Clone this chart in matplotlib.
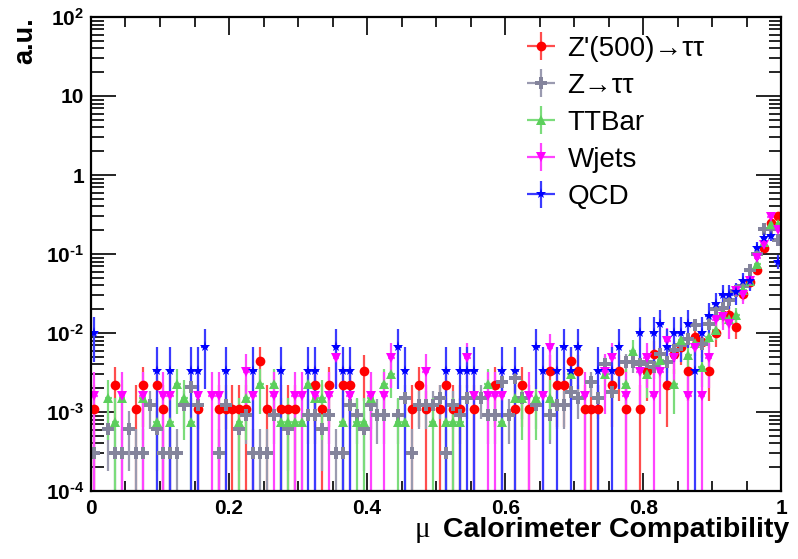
import numpy as np
import matplotlib
matplotlib.use("Agg")
import matplotlib.pyplot as plt
from matplotlib.ticker import FixedLocator, MultipleLocator, LogLocator, NullFormatter

plt.rcParams['font.family'] = ['Liberation Sans', 'DejaVu Sans']
plt.rcParams['mathtext.fontset'] = 'custom'
plt.rcParams['mathtext.rm'] = 'Liberation Sans:bold'
plt.rcParams['mathtext.bf'] = 'Liberation Sans:bold'
plt.rcParams['mathtext.it'] = 'Liberation Sans:bold'

# bin index (0..99, width 0.01) and normalised content per sample
zp_bins = [0, 3, 6, 7, 9, 10, 15, 18, 19, 20, 21, 22, 24, 25, 27, 28, 29, 32, 33, 34, 36, 37, 39,
           46, 47, 48, 50, 51, 52, 53, 55, 58, 61, 62, 63, 66, 67, 68, 69, 70, 71, 72, 73, 75, 76,
           77, 79, 80, 81, 83, 84, 85, 86, 87, 88, 89, 90, 91, 92, 93, 94, 95, 96, 97, 98, 99]
zp_vals = [1.1e-3, 2.2e-3, 1.1e-3, 2.2e-3, 2.2e-3, 1.1e-3, 1.1e-3, 1.1e-3, 1.1e-3, 1.1e-3, 1.1e-3,
           1.1e-3, 4.4e-3, 1.1e-3, 1.1e-3, 1.1e-3, 1.1e-3, 2.2e-3, 1.1e-3, 2.2e-3, 2.2e-3, 2.2e-3,
           3.3e-3, 1.1e-3, 2.2e-3, 1.1e-3, 1.1e-3, 2.2e-3, 1.1e-3, 1.1e-3, 1.1e-3, 2.2e-3, 1.1e-3,
           2.2e-3, 1.1e-3, 3.3e-3, 2.2e-3, 2.2e-3, 4.4e-3, 3.3e-3, 1.1e-3, 1.1e-3, 1.1e-3, 2.2e-3,
           3.3e-3, 1.1e-3, 1.1e-3, 3.3e-3, 5.5e-3, 2.2e-3, 5.5e-3, 6.6e-3, 3.3e-3, 8.8e-3, 7.7e-3,
           3.3e-3, 9.9e-3, 1.7e-2, 1.7e-2, 1.2e-2, 3.1e-2, 4.4e-2, 6.2e-2, 0.12, 0.25, 0.30]

ztt_bins = [0, 2, 3, 4, 5, 6, 7, 8, 9, 10, 11, 12, 13, 14, 15, 18, 19, 21, 22, 23, 24, 25, 26, 28,
            31, 32, 33, 34, 35, 36, 37, 38, 39, 40, 41, 42, 44, 45, 46, 47, 48, 49, 50, 51, 52, 53,
            54, 56, 57, 58, 59, 60, 61, 62, 64, 66, 67, 68, 69, 70, 72, 73, 74, 75, 77, 78, 79, 80,
            81, 82, 83, 84, 85, 86, 87, 88, 89, 90, 91, 92, 93, 94, 95, 96, 97, 98, 99]
ztt_vals = [3.05e-4, 6.1e-4, 3.05e-4, 3.05e-4, 6.1e-4, 3.05e-4, 3.05e-4, 1.22e-3, 6.1e-4, 3.05e-4,
            3.05e-4, 3.05e-4, 1.22e-3, 2.1e-3, 1.22e-3, 3.05e-4, 1.22e-3, 6.1e-4, 9.2e-4, 3.05e-4,
            3.05e-4, 3.05e-4, 9.2e-4, 6.1e-4, 9.2e-4, 9.2e-4, 6.1e-4, 9.2e-4, 3.05e-4, 3.05e-4,
            1.22e-3, 9.2e-4, 6.1e-4, 1.22e-3, 9.2e-4, 9.2e-4, 9.2e-4, 1.5e-3, 3.05e-4, 1.22e-3,
            1.22e-3, 1.22e-3, 1.5e-3, 3.05e-4, 1.22e-3, 9.2e-4, 1.5e-3, 1.5e-3, 9.2e-4, 9.2e-4,
            2.4e-3, 9.2e-4, 2.7e-3, 1.5e-3, 1.22e-3, 9.2e-4, 1.22e-3, 1.22e-3, 1.8e-3, 1.5e-3,
            2.4e-3, 1.5e-3, 4.0e-3, 1.8e-3, 4.3e-3, 4.3e-3, 4.0e-3, 4.3e-3, 3.7e-3, 5.5e-3, 4.3e-3,
            6.1e-3, 7.0e-3, 8.5e-3, 1.25e-2, 7.3e-3, 1.3e-2, 2.0e-2, 2.1e-2, 2.6e-2, 3.4e-2, 3.9e-2,
            6.2e-2, 0.10, 0.21, 0.21, 0.15]

tt_bins = [2, 3, 4, 7, 9, 11, 12, 13, 14, 21, 22, 24, 26, 27, 28, 29, 30, 31, 32, 33, 36, 38, 39,
           40, 42, 43, 44, 45, 49, 51, 52, 53, 57, 59, 61, 62, 64, 66, 69, 74, 77, 78, 80, 82, 84,
           85, 86, 87, 88, 89, 90, 91, 92, 93, 94, 95, 96, 97, 98, 99]
tt_vals = [1.5e-3, 7.5e-4, 1.5e-3, 1.5e-3, 7.5e-4, 7.5e-4, 2.25e-3, 1.5e-3, 7.5e-4, 7.5e-4, 1.5e-3,
           2.25e-3, 2.25e-3, 7.5e-4, 7.5e-4, 7.5e-4, 7.5e-4, 2.25e-3, 1.5e-3, 1.5e-3, 7.5e-4,
           7.5e-4, 7.5e-4, 1.5e-3, 2.25e-3, 3.0e-3, 7.5e-4, 7.5e-4, 7.5e-4, 7.5e-4, 7.5e-4, 7.5e-4,
           2.25e-3, 7.5e-4, 1.5e-3, 1.5e-3, 1.5e-3, 1.5e-3, 3.0e-3, 3.0e-3, 2.25e-3, 6.0e-3, 3.0e-3,
           4.5e-3, 2.25e-3, 8.2e-3, 5.2e-3, 7.5e-3, 3.75e-3, 9.0e-3, 1.1e-2, 1.7e-2, 1.5e-2, 1.7e-2,
           3.5e-2, 4.5e-2, 7.5e-2, 0.14, 0.24, 0.24]

wj_bins = [0, 4, 7, 10, 11, 15, 17, 18, 22, 23, 26, 29, 30, 32, 34, 35, 37, 40, 42, 43, 48, 54, 55,
           57, 58, 59, 63, 65, 66, 71, 74, 75, 77, 79, 80, 81, 82, 83, 84, 86, 87, 88, 89, 90, 91,
           92, 93, 94, 95, 96, 97, 98, 99]
wj_vals = [1.6e-3, 1.6e-3, 1.6e-3, 1.6e-3, 1.6e-3, 1.6e-3, 1.6e-3, 1.6e-3, 3.2e-3, 1.6e-3, 1.6e-3,
           1.6e-3, 1.6e-3, 1.6e-3, 1.6e-3, 4.8e-3, 1.6e-3, 1.6e-3, 1.6e-3, 4.8e-3, 3.2e-3, 4.8e-3,
           1.6e-3, 1.6e-3, 1.6e-3, 1.6e-3, 1.6e-3, 1.6e-3, 6.4e-3, 1.6e-3, 3.2e-3, 4.8e-3, 1.6e-3,
           3.2e-3, 4.8e-3, 1.6e-3, 3.2e-3, 8.0e-3, 4.8e-3, 1.6e-3, 6.4e-3, 1.6e-3, 4.8e-3, 1.45e-2,
           1.6e-2, 1.3e-2, 3.4e-2, 3.0e-2, 4.5e-2, 8.8e-2, 0.13, 0.29, 0.20]

qcd_bins = [0, 9, 11, 14, 15, 16, 19, 23, 27, 31, 32, 35, 36, 37, 44, 45, 51, 53, 54, 55, 59, 61, 64,
            65, 67, 68, 69, 70, 73, 75, 76, 79, 81, 82, 83, 84, 85, 86, 87, 88, 89, 90, 91, 92, 93,
            94, 95, 96, 97, 98, 99]
qcd_vals = [1.0e-2, 3.3e-3, 3.3e-3, 3.3e-3, 3.3e-3, 6.6e-3, 3.3e-3, 3.3e-3, 3.3e-3, 3.3e-3, 3.3e-3,
            6.6e-3, 3.3e-3, 3.3e-3, 6.6e-3, 3.3e-3, 3.3e-3, 3.3e-3, 3.3e-3, 3.3e-3, 3.3e-3, 3.3e-3,
            6.6e-3, 3.3e-3, 3.3e-3, 6.6e-3, 3.3e-3, 6.6e-3, 3.3e-3, 3.3e-3, 6.6e-3, 1.0e-2, 1.0e-2,
            1.3e-2, 6.6e-3, 1.0e-2, 1.0e-2, 1.3e-2, 3.3e-3, 1.0e-2, 1.65e-2, 2.3e-2, 3.0e-2, 3.0e-2,
            3.3e-2, 4.6e-2, 4.6e-2, 0.12, 0.16, 0.17, 0.08]

# weight of one entry in each sample (sets the Poisson error bars)
zp_unit, ztt_unit, tt_unit, wj_unit, qcd_unit = 1.1e-3, 3.05e-4, 7.5e-4, 1.6e-3, 3.3e-3

labels = ["Z'(500)\u2192\u03c4\u03c4", "Z\u2192\u03c4\u03c4", "TTBar", "Wjets", "QCD"]

BIN_W = 0.01

fig = plt.figure(figsize=(7.98, 5.59), dpi=100)
ax = fig.add_axes([0.114, 0.1216, 0.865, 0.848])

samples = [
    (zp_bins, zp_vals, zp_unit, 'o', '#ff0000', '#ff4d4d', 7),
    (ztt_bins, ztt_vals, ztt_unit, 'P', '#84849c', '#9a9ab0', 8),
    (tt_bins, tt_vals, tt_unit, '^', '#5ccf5c', '#7bdc7b', 7.5),
    (wj_bins, wj_vals, wj_unit, 'v', '#ff00ff', '#ff44ff', 7.5),
    (qcd_bins, qcd_vals, qcd_unit, '*', '#0000ff', '#3b3bff', 8),
]
handles = []
for bins, vals, unit, mk, col, ecol, ms in samples:
    x = (np.array(bins) + 0.5) * BIN_W
    v = np.array(vals)
    err = np.sqrt(v * unit)
    lo = np.minimum(err, v - 1e-6)
    h = ax.errorbar(x, v, yerr=[lo, err], xerr=BIN_W / 2, fmt=mk, color=col, ecolor=ecol,
                    ms=ms, mew=0, elinewidth=1.6, capsize=0)
    handles.append(h)

ax.set_yscale('log')
ax.set_xlim(0, 1)
ax.set_ylim(1e-4, 100)

for s in ax.spines.values():
    s.set_linewidth(1.6)

ax.xaxis.set_major_locator(FixedLocator([0, 0.2, 0.4, 0.6, 0.8, 1.0]))
ax.xaxis.set_minor_locator(MultipleLocator(0.05))
ax.set_xticklabels(['0', '0.2', '0.4', '0.6', '0.8', '1'])
ax.yaxis.set_major_locator(FixedLocator([1e-4, 1e-3, 1e-2, 1e-1, 1, 10, 100]))
ax.yaxis.set_minor_locator(LogLocator(base=10, subs=np.arange(2, 10), numticks=20))
ax.yaxis.set_minor_formatter(NullFormatter())
ax.set_yticklabels(['$10^{\u20104}$', '$10^{\u20103}$', '$10^{\u20102}$', '$10^{\u20101}$',
                    '1', '10', '$10^{2}$'])
ax.tick_params(which='both', direction='in', top=True, right=True, width=1.2,
               labelsize=15)
ax.tick_params(axis='y', which='major', length=18, pad=5)
ax.tick_params(axis='y', which='minor', length=9)
ax.tick_params(axis='x', which='major', length=13, pad=6)
ax.tick_params(axis='x', which='minor', length=7)
for lab in ax.get_xticklabels() + ax.get_yticklabels():
    lab.set_fontweight('bold')

xl = fig.text(0.989, 0.039, "Calorimeter Compatibility", ha='right', va='baseline',
              fontsize=20.5, fontweight='bold')
fig.canvas.draw()
bb = xl.get_window_extent()
fig.text((bb.x0 - 13) / fig.bbox.width, 0.039, "\u03bc", ha='right', va='baseline',
         fontsize=21, family=['Liberation Serif', 'DejaVu Serif'])
fig.text(0.032, 0.9696, "a.u.", ha='center', va='top', rotation=90,
         fontsize=19.5, fontweight='bold')

ax.legend(handles, labels, loc='upper left', bbox_to_anchor=(0.606, 0.984), frameon=False,
          fontsize=20, handlelength=1.5, handletextpad=0.2, labelspacing=0.4,
          borderaxespad=0)

fig.savefig('out.png', dpi=100)
